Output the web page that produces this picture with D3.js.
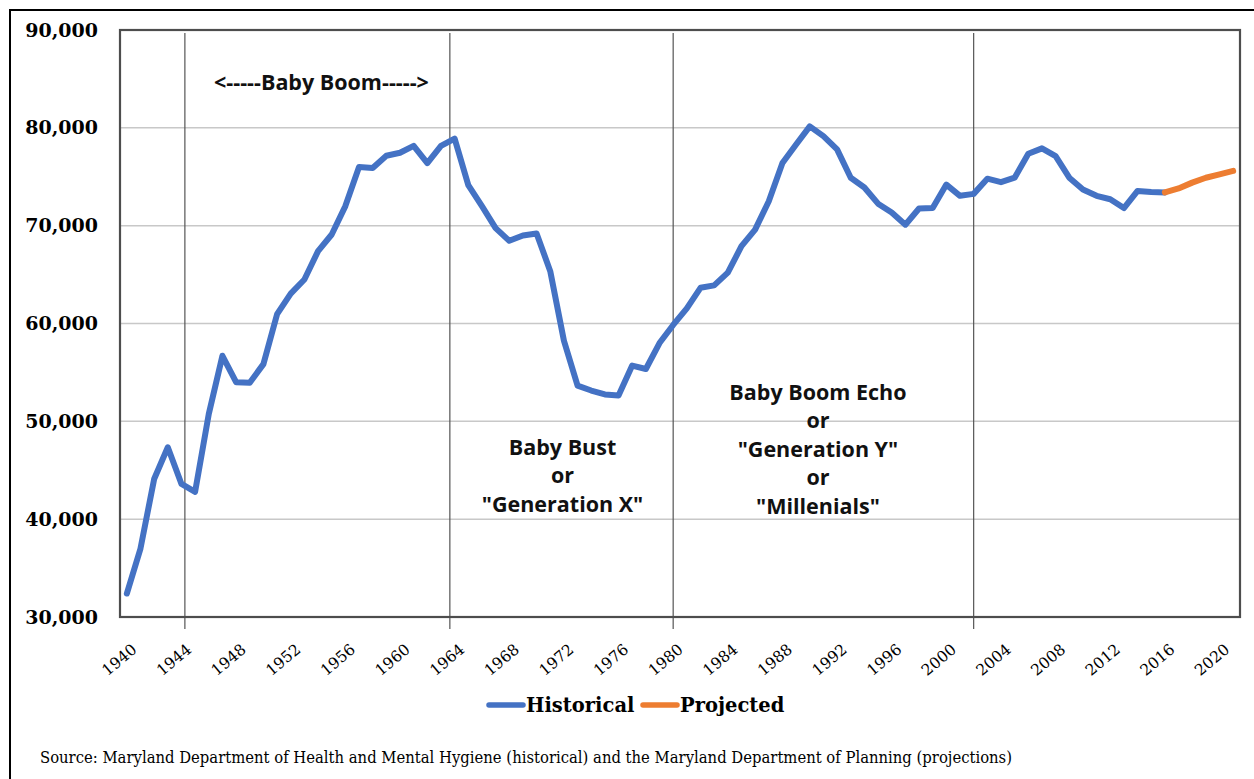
<!DOCTYPE html>
<html>
<head>
<meta charset="utf-8">
<script src="https://cdn.jsdelivr.net/npm/d3@7"></script>
<style>
  body { margin: 0; background: #fff; }
  svg { display: block; }
</style>
</head>
<body>
<script>
// Births per year
var years = d3.range(1940, 2017);
var historical = [
  32400, 37000, 44100, 47350, 43600, 42800, 50750, 56700, 54000, 53950,
  55850, 60950, 63050, 64500, 67400, 69100, 72000, 76000, 75900, 77150,
  77450, 78150, 76400, 78150, 78900, 74150, 72000, 69750, 68450, 69000,
  69200, 65350, 58250, 53650, 53150, 52750, 52650, 55700, 55350, 58000,
  59850, 61550, 63650, 63900, 65200, 67900, 69600, 72500, 76400, 78300,
  80150, 79150, 77800, 74900, 73900, 72250, 71350, 70100, 71750, 71800,
  74200, 73050, 73250, 74800, 74450, 74900, 77350, 77900, 77100, 74900,
  73700, 73050, 72700, 71800, 73550, 73450, 73400
];
var projYears = [2016, 2017, 2018, 2019, 2020, 2021];
var projected = [73400, 73800, 74400, 74900, 75250, 75600];

var tickYears = d3.range(1940, 2021, 4);
var yTicks = [30000, 40000, 50000, 60000, 70000, 80000, 90000];
// hand-drawn divider lines between generations (fractional years)
var dividers = [1944.25, 1963.65, 1980, 2002];

var svgWidth = 1254, svgHeight = 779;
var margin = { top: 30, left: 120, right: 14, bottom: 162 };
var width = svgWidth - margin.left - margin.right;
var height = svgHeight - margin.top - margin.bottom;

var svg = d3.select("body").append("svg")
  .attr("width", svgWidth)
  .attr("height", svgHeight);

// outer frame of the picture
svg.append("rect")
  .attr("x", 10).attr("y", 10)
  .attr("width", svgWidth + 20).attr("height", svgHeight + 20)
  .attr("fill", "none")
  .attr("stroke", "#000")
  .attr("stroke-width", 2);

var chartGroup = svg.append("g")
  .attr("transform", `translate(${margin.left}, ${margin.top})`);

var xScale = d3.scaleLinear().domain([1939.5, 2021.5]).range([0, width]);
var yScale = d3.scaleLinear().domain([30000, 90000]).range([height, 0]);

// gridlines
chartGroup.selectAll(".grid")
  .data(yTicks).enter()
  .append("line")
  .attr("class", "grid")
  .attr("x1", 0).attr("x2", width)
  .attr("y1", d => yScale(d)).attr("y2", d => yScale(d))
  .attr("stroke", "#c8c8c8")
  .attr("stroke-width", 1.5);

// y axis labels
var yAxis = d3.axisLeft(yScale).tickValues(yTicks).tickSize(0).tickPadding(22)
  .tickFormat(d3.format(","));
chartGroup.append("g")
  .attr("class", "y-axis")
  .call(yAxis)
  .call(g => g.select(".domain").remove())
  .selectAll("text")
  .attr("font-family", "DejaVu Serif")
  .attr("font-weight", "bold")
  .attr("font-size", 19)
  .attr("fill", "#000");

// x axis labels
var xAxis = d3.axisBottom(xScale).tickValues(tickYears).tickSize(0).tickFormat(d3.format("d"));
chartGroup.append("g")
  .attr("class", "x-axis")
  .attr("transform", `translate(0, ${height})`)
  .call(xAxis)
  .call(g => g.select(".domain").remove())
  .selectAll("text")
  .attr("font-family", "DejaVu Serif")
  .attr("font-size", 15.5)
  .attr("fill", "#000")
  .attr("text-anchor", "end")
  .attr("dy", "0.35em")
  .attr("y", 0)
  .attr("transform", "translate(7, 30) rotate(-40)");

// divider lines
chartGroup.selectAll(".divider")
  .data(dividers).enter()
  .append("line")
  .attr("class", "divider")
  .attr("x1", d => xScale(d)).attr("x2", d => xScale(d))
  .attr("y1", 3).attr("y2", height + 12)
  .attr("stroke", "#555")
  .attr("stroke-width", 1.2);

// plot frame
chartGroup.append("rect")
  .attr("width", width).attr("height", height)
  .attr("fill", "none")
  .attr("stroke", "#4d4d4d")
  .attr("stroke-width", 2.2);

// lines
var line = d3.line()
  .x(d => xScale(d[0]))
  .y(d => yScale(d[1]));

chartGroup.append("path")
  .datum(d3.zip(years, historical))
  .attr("d", line)
  .attr("fill", "none")
  .attr("stroke", "#4472C4")
  .attr("stroke-width", 6)
  .attr("stroke-linejoin", "round")
  .attr("stroke-linecap", "round");

chartGroup.append("path")
  .datum(d3.zip(projYears, projected))
  .attr("d", line)
  .attr("fill", "none")
  .attr("stroke", "#ED7D31")
  .attr("stroke-width", 6)
  .attr("stroke-linejoin", "round")
  .attr("stroke-linecap", "round");

// annotations
var notes = [
  { x: 1954.25, y: 82, lines: ["<-----Baby Boom----->"] },
  { x: 1971.9, y: 447, lines: ["Baby Bust", "or", "\"Generation X\""] },
  { x: 1990.6, y: 392, lines: ["Baby Boom Echo", "or", "\"Generation Y\"", "or", "\"Millenials\""] }
];
notes.forEach(function(n) {
  var t = svg.append("text")
    .attr("font-family", "Open Sans")
    .attr("font-weight", "bold")
    .attr("font-size", 21.5)
    .attr("fill", "#111")
    .attr("text-anchor", "middle");
  n.lines.forEach(function(s, i) {
    t.append("tspan")
      .attr("x", margin.left + xScale(n.x))
      .attr("y", n.y + i * 28.5)
      .attr("dy", "0.35em")
      .text(s);
  });
});

// legend
var legend = [
  { name: "Historical", color: "#4472C4", x: 487 },
  { name: "Projected", color: "#ED7D31", x: 641 }
];
var lg = svg.selectAll(".legend").data(legend).enter()
  .append("g").attr("class", "legend")
  .attr("transform", d => `translate(${d.x}, 705)`);
lg.append("line")
  .attr("x1", 2).attr("x2", 36)
  .attr("stroke", d => d.color)
  .attr("stroke-width", 5.5)
  .attr("stroke-linecap", "round");
lg.append("text")
  .attr("x", 39)
  .attr("dy", "0.35em")
  .attr("font-family", "DejaVu Serif")
  .attr("font-weight", "bold")
  .attr("font-size", 19.5)
  .attr("fill", "#000")
  .text(d => d.name);

// source note
svg.append("text")
  .attr("x", 40).attr("y", 757)
  .attr("dy", "0.35em")
  .attr("font-family", "DejaVu Serif")
  .attr("font-size", 16)
  .attr("fill", "#000")
  .attr("textLength", 972)
  .attr("lengthAdjust", "spacingAndGlyphs")
  .text("Source: Maryland Department of Health and Mental Hygiene (historical) and the Maryland Department of Planning (projections)");
</script>
</body>
</html>
